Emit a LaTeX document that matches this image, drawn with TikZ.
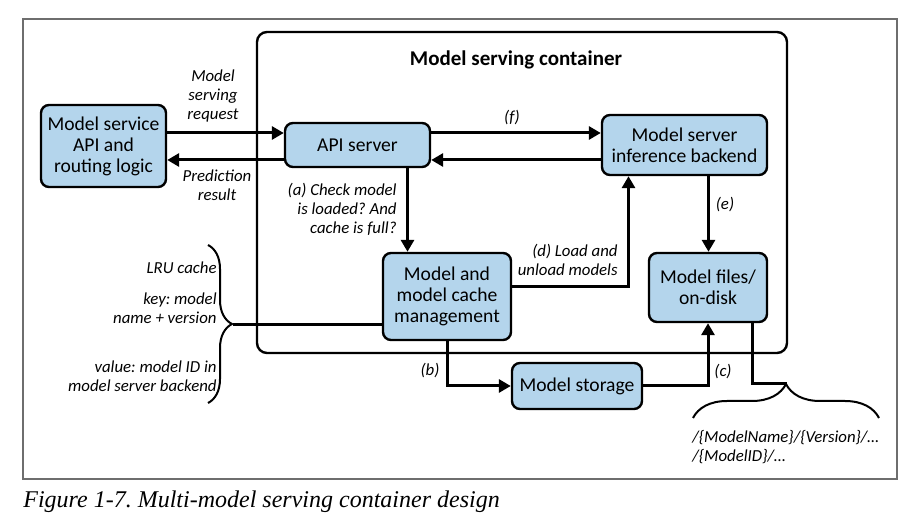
\documentclass[tikz,border=0pt]{standalone}
\usepackage{fontspec}
\setmainfont{Carlito}
\newfontfamily\capfont{Liberation Serif}
\usetikzlibrary{arrows.meta, positioning, decorations.pathreplacing}
\definecolor{boxblue}{RGB}{180, 213, 236}
\definecolor{framegray}{RGB}{110, 110, 110}
\frenchspacing

\begin{document}
\begin{tikzpicture}[x=0.5pt, y=-0.5pt,
    bbox/.style={draw, line width=1.2pt, rounded corners=4pt, fill=boxblue,
        align=center, font=\fontsize{9.8}{10.5}\selectfont, inner sep=0pt},
    lbl/.style={font=\fontsize{8.4}{9.5}\selectfont\itshape, inner sep=0pt},
    arr/.style={line width=1.5pt, -{Triangle[length=6pt, width=6.5pt]}},
    brc/.style={line width=1pt, decorate, decoration={brace, amplitude=#1}}
]
    \useasboundingbox (0,0) rectangle (917,518);
    \draw[framegray, line width=0.6pt] (23,19) rectangle (897,479);
    \draw[line width=1.2pt, rounded corners=5pt] (257,32) rectangle (787,353);
    \node[font=\fontsize{10.5}{12}\selectfont\bfseries] (title) at (516,60) {Model serving container};

    \node[bbox, minimum width=62.5pt, minimum height=41pt] (svc) at (103.5,146) {Model service\\API and\\routing logic};
    \node[bbox, minimum width=72.5pt, minimum height=22pt] (api) at (357.5,145) {API server};
    \node[bbox, minimum width=82.5pt, minimum height=30pt] (backend) at (684.5,145) {Model server\\inference backend};
    \node[bbox, minimum width=64pt, minimum height=43.5pt] (mgmt) at (447,296.5) {Model and\\model cache\\management};
    \node[bbox, minimum width=59pt, minimum height=34.5pt] (files) at (708,287.5) {Model files/\\on-disk};
    \node[bbox, minimum width=65pt, minimum height=23pt] (storage) at (577,386) {Model storage};

    % request / result
    \draw[arr] ([yshift=6pt]api.west -| svc.east) -- ([yshift=6pt]api.west);
    \draw[arr] ([yshift=-7.5pt]api.west) -- ([yshift=-7.5pt]api.west -| svc.east);
    \node[lbl, align=center] (lreq) at (213,96) {Model\\serving\\request};
    \node[lbl, align=center] (lres) at (217,185) {Prediction\\result};

    % (f) and back
    \draw[arr] ([yshift=6pt]api.east) -- ([yshift=6pt]api.east -| backend.west);
    \draw[arr] ([yshift=-7.5pt]backend.west) -- ([yshift=-7.5pt]backend.west -| api.east);
    \node[lbl] (lf) at (512,118) {(f)};

    % (a) to (e)
    \draw[arr] ([xshift=25pt]api.south) -- ([xshift=25pt]api.south |- mgmt.north);
    \node[lbl, align=right, anchor=east] (la) at (397,209) {(a) Check model\\is loaded? And\\cache is full?};
    \draw[arr] (mgmt.south) |- (storage.west);
    \node[lbl] (lb) at (430,371) {(b)};
    \draw[arr] (storage.east) -| (files.south);
    \node[lbl] (lc) at (723,372) {(c)};
    \draw[arr] ([yshift=4.75pt]mgmt.east) -| ([xshift=-28pt]backend.south);
    \node[lbl, align=right, anchor=east] (ld) at (618,260) {(d) Load and\\unload models};
    \draw[arr] ([xshift=12pt]backend.south) -- ([xshift=12pt]backend.south |- files.north);
    \node[lbl] (le) at (725,205) {(e)};

    % LRU cache brace
    \coordinate (lrutip) at (233,325);
    \draw[line width=1.5pt] ([yshift=-14.25pt]mgmt.west) -- (lrutip);
    \draw[brc=12pt] (208,245) -- (208,403);
    \node[lbl, anchor=east] (llru) at (217,268) {LRU cache};
    \node[lbl, align=right, anchor=east] (lkey) at (217,308) {key: model\\name + version};
    \node[lbl, align=right, anchor=east] (lval) at (217,376) {value: model ID in\\model server backend};

    % on-disk layout brace
    \coordinate (filetip) at (787,384);
    \draw[line width=1.5pt] ([xshift=22pt]files.south) |- (filetip);
    \draw[brc=17pt] (693,418) -- (879,418);
    \node[lbl, align=left, anchor=west] (lpath) at (692,447) {/\{ModelName\}/\{Version\}/…\\/\{ModelID\}/…};

    \node[anchor=west, font=\capfont\itshape\fontsize{12}{14}\selectfont, inner sep=0pt] (cap) at (23,502) {Figure 1-7. Multi-model serving container design};
\end{tikzpicture}
\end{document}
